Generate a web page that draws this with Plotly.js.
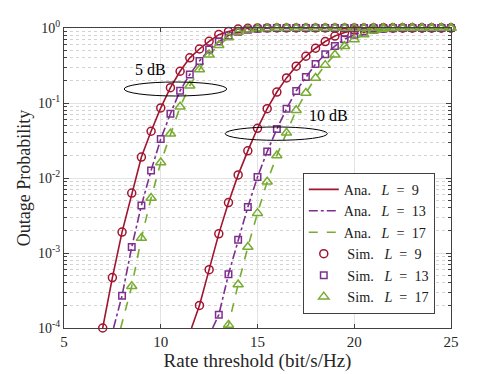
<!DOCTYPE html>
<html>
<head>
<meta charset="utf-8">
<script src="https://cdn.plot.ly/plotly-3.0.1.min.js"></script>
<style>html,body{margin:0;padding:0;background:#fff;}#chart{width:498px;height:374px;}</style>
</head>
<body>
<div id="chart"></div>
<script>
// ---- 5 dB, simulated ----
const x5_L9  = [7.0,7.5,8.0,8.5,9.0,9.5,10.0,10.5,11.0,11.5,12.0,12.5,13.0,13.5,14.0,14.5,15.0,15.5,16.0,16.5,17.0,17.5,18.0,18.5,19.0,19.5,20.0,20.5,21.0,21.5,22.0,22.5,23.0,23.5,24.0,24.5,25.0];
const y5_L9  = [1.0e-4,4.7e-4,1.9e-3,6.3e-3,1.9e-2,4.2e-2,8.6e-2,0.16,0.265,0.40,0.525,0.665,0.816,0.90,0.97,0.99,0.997,1,1,1,1,1,1,1,1,1,1,1,1,1,1,1,1,1,1,1,1];
const x5_L13 = [8.0,8.5,9.0,9.5,10.0,10.5,11.0,11.5,12.0,12.5,13.0,13.5,14.0,14.5,15.0,15.5,16.0,16.5,17.0,17.5,18.0,18.5,19.0,19.5,20.0,20.5,21.0,21.5,22.0,22.5,23.0,23.5,24.0,24.5,25.0];
const y5_L13 = [2.7e-4,1.2e-3,4.3e-3,1.26e-2,3.3e-2,7.2e-2,0.146,0.24,0.363,0.515,0.66,0.79,0.89,0.95,0.98,0.995,1,1,1,1,1,1,1,1,1,1,1,1,1,1,1,1,1,1,1];
const x5_L17 = [8.5,9.0,9.5,10.0,10.5,11.0,11.5,12.0,12.5,13.0,13.5,14.0,14.5,15.0,15.5,16.0,16.5,17.0,17.5,18.0,18.5,19.0,19.5,20.0,20.5,21.0,21.5,22.0,22.5,23.0,23.5,24.0,24.5,25.0];
const y5_L17 = [3.6e-4,1.58e-3,5.4e-3,1.61e-2,3.9e-2,8.9e-2,0.17,0.28,0.44,0.59,0.745,0.885,0.95,0.985,0.996,1,1,1,1,1,1,1,1,1,1,1,1,1,1,1,1,1,1,1];
// ---- 10 dB, simulated ----
const x10_L9  = [12.0,12.5,13.0,13.5,14.0,14.5,15.0,15.5,16.0,16.5,17.0,17.5,18.0,18.5,19.0,19.5,20.0,20.5,21.0,21.5,22.0,22.5,23.0,23.5,24.0,24.5,25.0];
const y10_L9  = [2.0e-4,6.0e-4,1.8e-3,4.7e-3,1.1e-2,2.3e-2,4.6e-2,8.4e-2,0.14,0.216,0.31,0.42,0.537,0.66,0.78,0.87,0.94,0.98,0.995,1,1,1,1,1,1,1,1];
const x10_L13 = [13.0,13.5,14.0,14.5,15.0,15.5,16.0,16.5,17.0,17.5,18.0,18.5,19.0,19.5,20.0,20.5,21.0,21.5,22.0,22.5,23.0,23.5,24.0,24.5,25.0];
const y10_L13 = [1.5e-4,5.2e-4,1.5e-3,4.1e-3,1.03e-2,2.25e-2,4.5e-2,8.4e-2,0.145,0.222,0.33,0.446,0.575,0.71,0.81,0.90,0.95,0.98,0.995,1,1,1,1,1,1];
const x10_L17 = [13.5,14.0,14.5,15.0,15.5,16.0,16.5,17.0,17.5,18.0,18.5,19.0,19.5,20.0,20.5,21.0,21.5,22.0,22.5,23.0,23.5,24.0,24.5,25.0];
const y10_L17 = [1.1e-4,3.8e-4,1.2e-3,3.4e-3,8.9e-3,2.0e-2,4.0e-2,8.0e-2,0.136,0.216,0.32,0.44,0.57,0.70,0.82,0.92,0.97,0.99,0.998,1,1,1,1,1];
// ---- analytic curves: where each line meets the bottom of the axis (y = 1e-4) ----
const lineStartX = {L9_5: 7.0, L13_5: 7.56, L17_5: 7.93, L9_10: 11.59, L13_10: 12.68, L17_10: 13.32};
const floorY = 1e-4;

const yTickVals = [1e-4, 1e-3, 1e-2, 1e-1, 1];
const yTickText = ['10<sup>-4</sup>','10<sup>-3</sup>','10<sup>-2</sup>','10<sup>-1</sup>','10<sup>0</sup>'];
const xTickVals = [5, 10, 15, 20, 25];

const labels = ['9', '13', '17'];
const colors = ['#a2142f', '#7e2f8e', '#77ac30'];
const dashes = ['solid', 'dashdot', 'dash'];
const symbols = ['circle-open', 'square-open', 'triangle-up-open'];
const msize = [8, 6.5, 9];

function withStart(x0, xs, ys) {
  if (x0 < xs[0]) return [[x0].concat(xs), [floorY].concat(ys)];
  return [xs, ys];
}

const sets5  = [[x5_L9, y5_L9, lineStartX.L9_5], [x5_L13, y5_L13, lineStartX.L13_5], [x5_L17, y5_L17, lineStartX.L17_5]];
const sets10 = [[x10_L9, y10_L9, lineStartX.L9_10], [x10_L13, y10_L13, lineStartX.L13_10], [x10_L17, y10_L17, lineStartX.L17_10]];

const sp = '\u00a0';
function legName(kind, lab) {
  return kind + sp + sp + sp + '<i>L</i>' + sp + sp + '=' + sp + sp + lab;
}
const traces = [];
for (let i = 0; i < 3; i++) {
  [sets5[i], sets10[i]].forEach((s, k) => {
    const [lx, ly] = withStart(s[2], s[0], s[1]);
    traces.push({
      x: lx, y: ly, mode: 'lines', type: 'scatter',
      name: legName('Ana.', labels[i]),
      legendgroup: 'ana' + i, showlegend: k === 0, legendrank: 1 + i,
      line: {color: colors[i], width: 1.6, dash: dashes[i]},
      hoverinfo: 'skip'
    });
  });
}
for (let i = 0; i < 3; i++) {
  [sets5[i], sets10[i]].forEach((s, k) => {
    traces.push({
      x: s[0], y: s[1], mode: 'markers', type: 'scatter', cliponaxis: false,
      name: sp + legName('Sim.', labels[i]),
      legendgroup: 'sim' + i, showlegend: k === 0, legendrank: 4 + i,
      marker: {symbol: symbols[i], size: msize[i], color: colors[i], line: {color: colors[i], width: 1.5}},
      hoverinfo: 'skip'
    });
  });
}

const font = 'Liberation Serif, Times New Roman, serif';
const layout = {
  width: 498, height: 374,
  margin: {l: 64, r: 47, t: 28, b: 46, pad: 0},
  paper_bgcolor: '#fff', plot_bgcolor: '#fff',
  font: {family: font, color: '#262626', size: 13},
  showlegend: true,
  legend: {
    x: 0.617, y: 0.518, xanchor: 'left', yanchor: 'top',
    bgcolor: '#fff', bordercolor: '#404040', borderwidth: 1,
    font: {family: font, size: 14.2, color: '#1a1a1a'},
    tracegroupgap: 0, itemwidth: 30
  },
  xaxis: {
    range: [5, 25], tickmode: 'array', tickvals: xTickVals,
    ticks: 'inside', ticklen: 4, tickcolor: '#404040', mirror: 'allticks',
    showline: true, linecolor: '#404040', linewidth: 1,
    showgrid: true, gridcolor: '#e3e3e3', gridwidth: 1, zeroline: false,
    tickfont: {family: font, size: 15, color: '#262626'},
    automargin: false,
    title: {text: 'Rate threshold (bit/s/Hz)', font: {family: font, size: 19, color: '#262626'}, standoff: 4}
  },
  yaxis: {
    type: 'log', range: [-4, 0], tickmode: 'array', tickvals: yTickVals, ticktext: yTickText,
    ticks: 'inside', ticklen: 5, tickcolor: '#404040', mirror: 'allticks',
    showline: true, linecolor: '#404040', linewidth: 1,
    showgrid: true, gridcolor: '#e3e3e3', gridwidth: 1, zeroline: false,
    tickfont: {family: font, size: 14, color: '#262626'},
    automargin: false,
    minor: {dtick: 'D1', ticks: 'inside', ticklen: 3, tickcolor: '#404040', showgrid: true, gridcolor: '#d3d3d3', griddash: 'dot', gridwidth: 1},
    title: {text: 'Outage Probability', font: {family: font, size: 18, color: '#262626'}, standoff: 2}
  },
  shapes: [
    {type: 'circle', xref: 'x', yref: 'y', x0: 8.11, x1: 13.41, y0: 0.124, y1: 0.1905, line: {color: '#000', width: 1}},
    {type: 'circle', xref: 'x', yref: 'y', x0: 13.33, x1: 18.61, y0: 0.0318, y1: 0.0479, line: {color: '#000', width: 1}}
  ],
  annotations: [
    {text: '5 dB', x: 9.47, y: Math.log10(0.279), xref: 'x', yref: 'y', showarrow: false, font: {family: font, size: 16, color: '#000'}},
    {text: '10 dB', x: 18.67, y: Math.log10(0.0684), xref: 'x', yref: 'y', showarrow: false, font: {family: font, size: 16, color: '#000'}}
  ]
};

Plotly.newPlot('chart', traces, layout, {displayModeBar: false, staticPlot: true});
</script>
</body>
</html>
